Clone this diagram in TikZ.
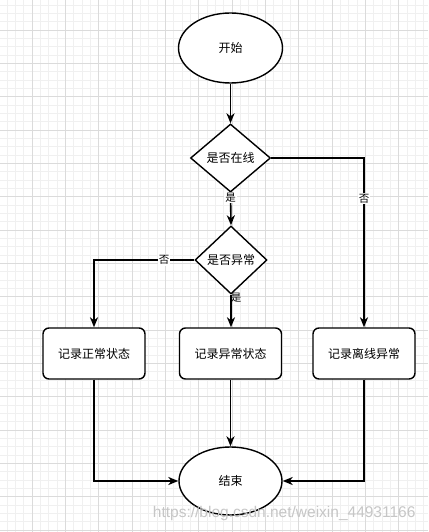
\documentclass[tikz,border=0pt]{standalone}
\usepackage{fontspec}
\setmainfont{Noto Sans CJK SC}
\newfontfamily\wmfont{Liberation Sans}
\usetikzlibrary{shapes.geometric,arrows.meta}
\tikzset{
  conn/.style={line width=1.6pt,-{Stealth[length=10pt,width=8pt,inset=3pt]}},
  plainline/.style={line width=1.6pt},
  term/.style={ellipse,draw,line width=1.4pt,fill=white,inner sep=0pt,font=\fontsize{12}{14}\selectfont},
  decide/.style={diamond,draw,line width=1.4pt,fill=white,inner sep=0pt,font=\fontsize{12}{14}\selectfont},
  proc/.style={rectangle,rounded corners=6pt,draw,line width=1.4pt,fill=white,minimum width=102pt,minimum height=51pt,inner sep=0pt,font=\fontsize{12}{14}\selectfont},
  lab/.style={fill=white,inner sep=1pt,font=\fontsize{10.5}{12}\selectfont}
}
\begin{document}
\begin{tikzpicture}[x=1pt,y=-1pt]
\fill[white] (0,0) rectangle (428,532);
\useasboundingbox (0,0) rectangle (428,532);
% grid
\foreach \i in {0,...,52} {
  \draw[gray!12,line width=0.5pt] ({-1.33+8.333*\i},0) -- ({-1.33+8.333*\i},532);
}
\foreach \i in {0,...,64} {
  \draw[gray!12,line width=0.5pt] (0,{5+8.333*(\i-1)}) -- (428,{5+8.333*(\i-1)});
}
\foreach \i in {0,...,13} {
  \draw[gray!28,line width=0.6pt] ({-1.33+33.333*\i},0) -- ({-1.33+33.333*\i},532);
}
\foreach \i in {0,...,16} {
  \draw[gray!28,line width=0.6pt] (0,{-3.33+33.333*\i}) -- (428,{-3.33+33.333*\i});
}
% nodes
\node[term,minimum width=104pt,minimum height=70pt] (start) at (230.5,48) {开始};
\node[decide,minimum width=80pt,minimum height=68pt] (d1) at (230.5,158) {是否在线};
\node[decide,minimum width=72pt,minimum height=68pt] (d2) at (231,260) {是否异常};
\node[proc] (b1) at (94,353.5) {记录正常状态};
\node[proc] (b2) at (230.5,353.5) {记录异常状态};
\node[proc] (b3) at (364,353.5) {记录离线异常};
\node[term,minimum width=103pt,minimum height=68pt] (end) at (230.5,481) {结束};
% connectors
\draw[conn] (start) -- (d1);
\draw[conn] (d1.east) -| node[lab,pos=0.62] {否} (b3.north);
\draw[conn] (d1.south) -- node[lab,pos=0.15] {是} (d2.north);
\draw[conn] (d2.west) -| node[lab,pos=0.15] {否} (b1.north);
\draw[conn] (d2.south) -- (d2.south |- b2.north);
\node[lab,fill=none] (l4) at (236,298) {是};
\draw[conn] (b1.south) |- (end.west);
\draw[conn] (b2.south) -- (end.north);
\draw[conn] (b3.south) |- (end.east);
% watermark
\node[text=gray!45,font=\wmfont\fontsize{15.5}{16}\selectfont,anchor=east] (wm) at (419,513) {https://blog.csdn.net/weixin\_44931166};
\end{tikzpicture}
\end{document}
